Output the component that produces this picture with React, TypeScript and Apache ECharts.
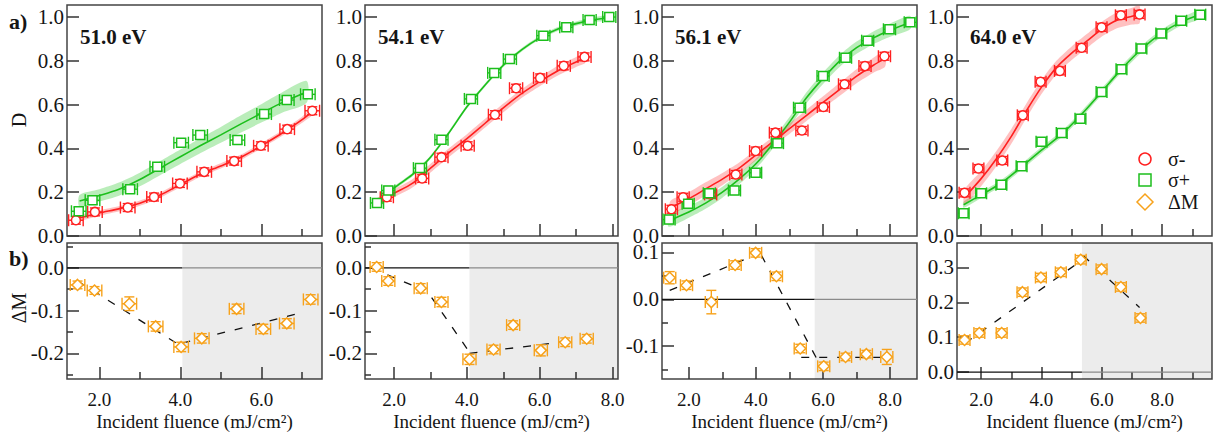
import React, { useEffect, useRef } from "react";
import * as echarts from "echarts";

// ---------- axes / ticks ----------
const XMIN = 1.2;
const XMAX = [7.5, 8.15, 8.8, 9.65];
const ENERGIES = ["51.0 eV", "54.1 eV", "56.1 eV", "64.0 eV"];
const X_TICKS = [2, 4, 6, 8];
const X_MINOR = [3, 5, 7, 9];
const D_MAX = 1.055;
const D_TICKS = [0, 0.2, 0.4, 0.6, 0.8, 1.0];
const DM_MIN = [-0.26, -0.26, -0.17, -0.02];
const DM_MAX = [0.058, 0.058, 0.12, 0.37];
const DM_TICKS = [[-0.2, -0.1, 0], [-0.2, -0.1, 0], [-0.1, 0, 0.1], [0, 0.1, 0.2, 0.3]];
const DM_MINOR = [[-0.25, -0.15, -0.05, 0.05], [-0.25, -0.15, -0.05, 0.05], [-0.15, -0.05, 0.05], []];
const SHADE_START = [4.05, 4.07, 5.75, 5.34];
const X_ERR = 0.18;
const D_YERR = 0.018;

// ---------- panel 1 : 51.0 eV ----------
const p1RedX = [1.42, 1.89, 2.7, 3.35, 3.99, 4.59, 5.33, 5.99, 6.64, 7.26];
const p1RedY = [0.072, 0.11, 0.13, 0.178, 0.24, 0.293, 0.342, 0.412, 0.488, 0.572];
const p1GreenX = [1.49, 1.83, 2.76, 3.43, 4.02, 4.49, 5.41, 6.07, 6.63, 7.15];
const p1GreenY = [0.113, 0.163, 0.214, 0.316, 0.426, 0.461, 0.438, 0.557, 0.621, 0.647];
const p1RedFitX = [1.45, 2.0, 2.5, 3.0, 3.5, 4.0, 4.5, 5.0, 5.5, 6.0, 6.5, 7.0, 7.3];
const p1RedFitY = [0.08, 0.105, 0.125, 0.15, 0.187, 0.235, 0.283, 0.32, 0.36, 0.412, 0.468, 0.53, 0.575];
const p1RedBand = [0.012, 0.012, 0.012, 0.012, 0.012, 0.012, 0.012, 0.012, 0.012, 0.012, 0.013, 0.014, 0.015];
const p1GreenFitX = [1.51, 2.0, 2.5, 3.0, 3.5, 4.0, 4.5, 5.0, 5.5, 6.0, 6.5, 7.12];
const p1GreenFitY = [0.16, 0.185, 0.215, 0.258, 0.31, 0.362, 0.413, 0.462, 0.512, 0.56, 0.608, 0.658];
const p1GreenBand = [0.027, 0.028, 0.03, 0.031, 0.032, 0.033, 0.034, 0.036, 0.039, 0.042, 0.046, 0.05];
const p1DmX = [1.46, 1.88, 2.74, 3.39, 4.02, 4.53, 5.39, 6.05, 6.63, 7.22];
const p1DmY = [-0.04, -0.053, -0.084, -0.137, -0.185, -0.165, -0.096, -0.143, -0.13, -0.074];
const p1DmErr = [0.009, 0.009, 0.016, 0.011, 0.011, 0.011, 0.011, 0.011, 0.011, 0.011];
const p1Dash = [
  [[1.46, -0.031], [4.0, -0.182]],
  [[4.05, -0.176], [7.0, -0.105]],
];

// ---------- panel 2 : 54.1 eV ----------
const p2RedX = [1.8, 2.77, 3.3, 4.02, 4.77, 5.35, 6.01, 6.66, 7.23];
const p2RedY = [0.177, 0.263, 0.36, 0.412, 0.554, 0.675, 0.722, 0.777, 0.818];
const p2GreenX = [1.53, 1.84, 2.71, 3.3, 4.11, 4.75, 5.18, 6.1, 6.73, 7.37, 7.91];
const p2GreenY = [0.151, 0.208, 0.31, 0.44, 0.626, 0.745, 0.808, 0.915, 0.953, 0.986, 1.0];
const p2RedFitX = [1.5, 2.0, 2.5, 3.0, 3.5, 4.0, 4.5, 5.0, 5.5, 6.0, 6.5, 7.0, 7.25];
const p2RedFitY = [0.15, 0.195, 0.24, 0.31, 0.38, 0.445, 0.515, 0.585, 0.65, 0.705, 0.755, 0.795, 0.815];
const p2RedBand = [0.018, 0.018, 0.019, 0.02, 0.02, 0.02, 0.02, 0.02, 0.02, 0.021, 0.022, 0.023, 0.024];
const p2GreenFitX = [1.5, 2.0, 2.5, 3.0, 3.5, 4.0, 4.5, 5.0, 5.5, 6.0, 6.5, 7.0, 7.5, 7.95];
const p2GreenFitY = [0.15, 0.22, 0.28, 0.36, 0.47, 0.59, 0.69, 0.78, 0.85, 0.905, 0.945, 0.97, 0.988, 0.998];
const p2GreenBand = [0.008, 0.008, 0.008, 0.008, 0.008, 0.008, 0.008, 0.008, 0.008, 0.008, 0.009, 0.01, 0.011, 0.012];
const p2DmX = [1.52, 1.84, 2.73, 3.3, 4.07, 4.73, 5.27, 6.03, 6.7, 7.29];
const p2DmY = [0.002, -0.031, -0.048, -0.08, -0.214, -0.191, -0.134, -0.193, -0.174, -0.166];
const p2DmErr = [0.01, 0.01, 0.011, 0.011, 0.012, 0.01, 0.01, 0.013, 0.01, 0.01];
const p2Dash = [
  [[1.36, 0.0], [2.75, -0.05]],
  [[2.75, -0.035], [4.05, -0.195]],
  [[4.07, -0.2], [6.95, -0.17]],
];

// ---------- panel 3 : 56.1 eV ----------
const p3RedX = [1.48, 1.83, 2.65, 3.4, 3.99, 4.58, 5.37, 6.01, 6.64, 7.25, 7.83];
const p3RedY = [0.122, 0.177, 0.19, 0.281, 0.388, 0.472, 0.482, 0.589, 0.693, 0.776, 0.821];
const p3GreenX = [1.41, 1.98, 2.61, 3.36, 3.99, 4.64, 5.3, 6.0, 6.67, 7.33, 7.98, 8.6];
const p3GreenY = [0.075, 0.147, 0.195, 0.208, 0.289, 0.424, 0.586, 0.731, 0.814, 0.892, 0.944, 0.976];
const p3RedFitX = [1.45, 2.0, 2.5, 3.0, 3.5, 4.0, 4.5, 5.0, 5.5, 6.0, 6.5, 7.0, 7.5, 7.85];
const p3RedFitY = [0.13, 0.17, 0.215, 0.26, 0.31, 0.37, 0.43, 0.49, 0.55, 0.61, 0.67, 0.73, 0.78, 0.81];
const p3RedBand = [0.03, 0.03, 0.03, 0.028, 0.026, 0.024, 0.022, 0.024, 0.026, 0.028, 0.03, 0.032, 0.034, 0.036];
const p3GreenFitX = [1.4, 2.0, 2.5, 3.0, 3.5, 4.0, 4.5, 5.0, 5.5, 6.0, 6.5, 7.0, 7.5, 8.0, 8.6];
const p3GreenFitY = [0.07, 0.11, 0.15, 0.2, 0.26, 0.33, 0.42, 0.52, 0.63, 0.72, 0.8, 0.86, 0.905, 0.94, 0.975];
const p3GreenBand = [0.028, 0.027, 0.026, 0.025, 0.024, 0.023, 0.022, 0.023, 0.025, 0.026, 0.027, 0.028, 0.029, 0.03, 0.03];
const p3DmX = [1.43, 1.93, 2.67, 3.38, 3.99, 4.61, 5.32, 6.02, 6.67, 7.29, 7.9];
const p3DmY = [0.046, 0.03, -0.006, 0.073, 0.099, 0.049, -0.105, -0.143, -0.123, -0.117, -0.123];
const p3DmErr = [0.013, 0.009, 0.025, 0.009, 0.009, 0.009, 0.009, 0.009, 0.008, 0.008, 0.016];
const p3Dash = [
  [[1.43, 0.019], [4.11, 0.098]],
  [[4.16, 0.094], [5.8, -0.125]],
  [[5.35, -0.124], [7.88, -0.124]],
];

// ---------- panel 4 : 64.0 eV ----------
const p4RedX = [1.45, 1.91, 2.7, 3.38, 3.97, 4.61, 5.33, 5.99, 6.63, 7.25];
const p4RedY = [0.197, 0.308, 0.345, 0.551, 0.704, 0.754, 0.86, 0.953, 1.008, 1.012];
const p4GreenX = [1.42, 2.0, 2.67, 3.34, 4.0, 4.67, 5.29, 5.99, 6.65, 7.31, 7.97, 8.63, 9.26];
const p4GreenY = [0.104, 0.195, 0.234, 0.319, 0.431, 0.47, 0.536, 0.658, 0.762, 0.856, 0.925, 0.983, 1.011];
const p4RedFitX = [1.45, 2.0, 2.5, 3.0, 3.5, 4.0, 4.5, 5.0, 5.5, 6.0, 6.5, 7.0, 7.25];
const p4RedFitY = [0.177, 0.262, 0.352, 0.455, 0.572, 0.68, 0.77, 0.835, 0.89, 0.945, 0.985, 1.004, 1.012];
const p4RedBand = [0.035, 0.035, 0.035, 0.034, 0.033, 0.032, 0.031, 0.031, 0.032, 0.034, 0.036, 0.038, 0.04];
const p4GreenFitX = [1.42, 2.0, 2.67, 3.34, 4.0, 4.67, 5.29, 5.99, 6.65, 7.31, 7.97, 8.63, 9.26];
const p4GreenFitY = [0.143, 0.188, 0.242, 0.316, 0.392, 0.465, 0.55, 0.658, 0.762, 0.853, 0.925, 0.978, 1.012];
const p4GreenBand = [0.014, 0.014, 0.014, 0.014, 0.014, 0.014, 0.014, 0.014, 0.015, 0.016, 0.017, 0.018, 0.019];
const p4DmX = [1.45, 1.94, 2.68, 3.37, 3.98, 4.64, 5.3, 5.99, 6.63, 7.28];
const p4DmY = [0.092, 0.112, 0.112, 0.229, 0.271, 0.286, 0.322, 0.295, 0.244, 0.155];
const p4DmErr = [0.012, 0.012, 0.012, 0.012, 0.012, 0.012, 0.012, 0.012, 0.012, 0.012];
const p4Dash = [
  [[1.47, 0.083], [5.49, 0.33]],
  [[5.38, 0.334], [7.25, 0.185]],
];

const PANELS = [
  { redX: p1RedX, redY: p1RedY, greenX: p1GreenX, greenY: p1GreenY, rfx: p1RedFitX, rfy: p1RedFitY, rb: p1RedBand, gfx: p1GreenFitX, gfy: p1GreenFitY, gb: p1GreenBand, dmX: p1DmX, dmY: p1DmY, dmE: p1DmErr, dash: p1Dash },
  { redX: p2RedX, redY: p2RedY, greenX: p2GreenX, greenY: p2GreenY, rfx: p2RedFitX, rfy: p2RedFitY, rb: p2RedBand, gfx: p2GreenFitX, gfy: p2GreenFitY, gb: p2GreenBand, dmX: p2DmX, dmY: p2DmY, dmE: p2DmErr, dash: p2Dash },
  { redX: p3RedX, redY: p3RedY, greenX: p3GreenX, greenY: p3GreenY, rfx: p3RedFitX, rfy: p3RedFitY, rb: p3RedBand, gfx: p3GreenFitX, gfy: p3GreenFitY, gb: p3GreenBand, dmX: p3DmX, dmY: p3DmY, dmE: p3DmErr, dash: p3Dash },
  { redX: p4RedX, redY: p4RedY, greenX: p4GreenX, greenY: p4GreenY, rfx: p4RedFitX, rfy: p4RedFitY, rb: p4RedBand, gfx: p4GreenFitX, gfy: p4GreenFitY, gb: p4GreenBand, dmX: p4DmX, dmY: p4DmY, dmE: p4DmErr, dash: p4Dash },
];

// ---------- styling ----------
const FONT = "Liberation Serif, serif";
const RED = "#ff2020";
const GREEN = "#1cbf1c";
const ORANGE = "#f7a21b";
const RED_BAND = "rgba(255,50,50,0.30)";
const GREEN_BAND = "rgba(40,200,40,0.32)";
const FRAME = "#444";
const TICK = "#333";
const TEXT = "#151515";
const LEFTS = [67, 365, 662, 957];
const WIDTHS = [255, 253, 255, 255];
const ROW_TOP = [5, 243];
const ROW_H = [231, 136];

function bandSeries(ax: number, fx: number[], fy: number[], hw: number[], color: string) {
  return {
    type: "custom",
    xAxisIndex: ax,
    yAxisIndex: ax,
    z: 1,
    silent: true,
    clip: false,
    data: fx.map((x, i) => [x, fy[i], hw[i]]),
    renderItem: (params: any, api: any) => {
      if (params.dataIndex !== 0) return null;
      const up = fx.map((x, i) => api.coord([x, fy[i] + hw[i]]));
      const lo = fx.map((x, i) => api.coord([x, fy[i] - hw[i]])).reverse();
      return { type: "polygon", shape: { points: up.concat(lo), smooth: 0.25 }, style: { fill: color } };
    },
  };
}

function errSeries(ax: number, xs: number[], ys: number[], ye: number[], color: string) {
  return {
    type: "custom",
    xAxisIndex: ax,
    yAxisIndex: ax,
    z: 3,
    silent: true,
    clip: false,
    data: xs.map((x, i) => [x, ys[i], X_ERR, ye[i]]),
    renderItem: (params: any, api: any) => {
      const x = api.value(0), y = api.value(1), xe = api.value(2), yv = api.value(3);
      const l = api.coord([x - xe, y]);
      const r = api.coord([x + xe, y]);
      const t = api.coord([x, y + yv]);
      const b = api.coord([x, y - yv]);
      const st = { stroke: color, lineWidth: 1.4, fill: null };
      const ln = (x1: number, y1: number, x2: number, y2: number) => ({ type: "line", shape: { x1, y1, x2, y2 }, style: st });
      const ch = 6, cw = 5;
      return {
        type: "group",
        children: [
          ln(l[0], l[1], r[0], r[1]),
          ln(l[0], l[1] - ch, l[0], l[1] + ch),
          ln(r[0], r[1] - ch, r[0], r[1] + ch),
          ln(t[0], t[1], b[0], b[1]),
          ln(t[0] - cw, t[1], t[0] + cw, t[1]),
          ln(b[0] - cw, b[1], b[0] + cw, b[1]),
        ],
      };
    },
  };
}

function markerSeries(ax: number, xs: number[], ys: number[], symbol: string, size: number, color: string) {
  return {
    type: "scatter",
    xAxisIndex: ax,
    yAxisIndex: ax,
    z: 4,
    silent: true,
    symbol,
    symbolSize: size,
    data: xs.map((x, i) => [x, ys[i]]),
    itemStyle: { color: "#fff", borderColor: color, borderWidth: 1.5, opacity: 1 },
  };
}

function lineSeries(ax: number, pts: number[][], color: string, width: number, type: any, smooth: number, z: number) {
  return {
    type: "line",
    xAxisIndex: ax,
    yAxisIndex: ax,
    z,
    silent: true,
    showSymbol: false,
    symbol: "none",
    smooth,
    data: pts,
    lineStyle: { color, width, type },
  };
}

function buildOption() {
  const grid: any[] = [];
  const xAxis: any[] = [];
  const yAxis: any[] = [];
  const series: any[] = [];
  const labelStyle = { fontFamily: FONT, color: TEXT };

  for (let row = 0; row < 2; row++) {
    for (let p = 0; p < 4; p++) {
      const g = row * 4 + p;
      grid.push({
        left: LEFTS[p], width: WIDTHS[p], top: ROW_TOP[row], height: ROW_H[row],
        show: true, borderColor: FRAME, borderWidth: 1.5, backgroundColor: "transparent",
        containLabel: false, outerBoundsMode: "none",
      });
      const xt = X_TICKS.filter((v) => v < XMAX[p]);
      const xm = X_MINOR.filter((v) => v < XMAX[p]);
      xAxis.push({
        type: "value", gridIndex: g, min: XMIN, max: XMAX[p], position: "bottom",
        axisLine: { show: false, onZero: false }, splitLine: { show: false },
        axisTick: { show: true, inside: true, length: 12, customValues: xt, lineStyle: { color: TICK, width: 1.5 } },
        axisLabel: { show: row === 1, customValues: xt, formatter: (v: number) => v.toFixed(1), margin: 11, fontSize: 19, ...labelStyle },
        name: row === 1 ? "Incident fluence (mJ/cm²)" : "",
        nameLocation: "middle", nameGap: 33,
        nameTextStyle: { fontSize: 19, ...labelStyle },
      });
      xAxis.push({
        type: "value", gridIndex: g, min: XMIN, max: XMAX[p], position: "bottom",
        axisLine: { show: false, onZero: false }, splitLine: { show: false },
        axisTick: { show: true, inside: true, length: 7, customValues: xm, lineStyle: { color: TICK, width: 1.5 } },
        axisLabel: { show: false },
      });
      const ymin = row === 0 ? 0 : DM_MIN[p];
      const ymax = row === 0 ? D_MAX : DM_MAX[p];
      const yt = row === 0 ? D_TICKS : DM_TICKS[p];
      const ym = row === 0 ? [] : DM_MINOR[p];
      yAxis.push({
        type: "value", gridIndex: g, min: ymin, max: ymax, position: "left",
        axisLine: { show: false, onZero: false }, splitLine: { show: false },
        axisTick: { show: true, inside: true, length: 12, customValues: yt, lineStyle: { color: TICK, width: 1.5 } },
        axisLabel: { show: true, customValues: yt, formatter: (v: number) => v.toFixed(1), margin: 3, fontSize: 21, lineHeight: 15, ...labelStyle },
      });
      yAxis.push({
        type: "value", gridIndex: g, min: ymin, max: ymax, position: "left",
        axisLine: { show: false, onZero: false }, splitLine: { show: false },
        axisTick: { show: ym.length > 0, inside: true, length: 6, customValues: ym.length ? ym : [ymin], lineStyle: { color: TICK, width: 1.5 } },
        axisLabel: { show: false },
      });
    }
  }

  PANELS.forEach((d, p) => {
    const top = 2 * p;
    series.push(bandSeries(top, d.gfx, d.gfy, d.gb, GREEN_BAND));
    series.push(bandSeries(top, d.rfx, d.rfy, d.rb, RED_BAND));
    series.push(lineSeries(top, d.gfx.map((x, i) => [x, d.gfy[i]]), GREEN, 1.6, "solid", 0.3, 2));
    series.push(lineSeries(top, d.rfx.map((x, i) => [x, d.rfy[i]]), RED, 1.6, "solid", 0.3, 2));
    series.push(errSeries(top, d.redX, d.redY, d.redX.map(() => D_YERR), RED));
    series.push(markerSeries(top, d.redX, d.redY, "circle", 9, RED));
    series.push(errSeries(top, d.greenX, d.greenY, d.greenX.map(() => D_YERR), GREEN));
    series.push(markerSeries(top, d.greenX, d.greenY, "rect", 9, GREEN));

    const bot = 2 * (4 + p);
    series.push({
      type: "line", xAxisIndex: bot, yAxisIndex: bot, z: 1, silent: true, showSymbol: false, symbol: "none",
      data: [[XMIN, 0], [SHADE_START[p], 0]],
      lineStyle: { color: "#111", width: 1.3 },
      markArea: {
        silent: true,
        itemStyle: { color: "rgba(0,0,0,0.075)" },
        data: [[{ xAxis: SHADE_START[p] }, { xAxis: XMAX[p] }]],
      },
    });
    series.push(lineSeries(bot, [[SHADE_START[p], 0], [XMAX[p], 0]], "#8a8a8a", 1.3, "solid", 0, 1));
    d.dash.forEach((seg) => series.push(lineSeries(bot, seg, "#111", 1.3, [8, 10], 0, 2)));
    series.push(errSeries(bot, d.dmX, d.dmY, d.dmE, ORANGE));
    series.push(markerSeries(bot, d.dmX, d.dmY, "diamond", 11, ORANGE));
  });

  const graphic: any[] = [];
  ENERGIES.forEach((t, p) => {
    graphic.push({
      type: "text", x: LEFTS[p] + 13, y: 37,
      style: { text: t, fontSize: 21, fontWeight: "bold", fontFamily: FONT, fill: TEXT, align: "left", verticalAlign: "middle" },
    });
  });
  graphic.push({ type: "text", x: 9, y: 21, style: { text: "a)", fontSize: 22, fontWeight: "bold", fontFamily: FONT, fill: TEXT, align: "left", verticalAlign: "middle" } });
  graphic.push({ type: "text", x: 9, y: 258, style: { text: "b)", fontSize: 22, fontWeight: "bold", fontFamily: FONT, fill: TEXT, align: "left", verticalAlign: "middle" } });
  graphic.push({ type: "text", x: 19, y: 120, rotation: Math.PI / 2, style: { text: "D", fontSize: 20, fontFamily: FONT, fill: TEXT, align: "center", verticalAlign: "middle" } });
  graphic.push({ type: "text", x: 19, y: 308, rotation: Math.PI / 2, style: { text: "ΔM", fontSize: 20, fontFamily: FONT, fill: TEXT, align: "center", verticalAlign: "middle" } });
  graphic.push({ type: "circle", shape: { cx: 1145, cy: 159, r: 6 }, style: { stroke: RED, lineWidth: 1.5, fill: "#fff" } });
  graphic.push({ type: "rect", shape: { x: 1139, y: 174, width: 12, height: 12 }, style: { stroke: GREEN, lineWidth: 1.5, fill: "#fff" } });
  graphic.push({ type: "polygon", shape: { points: [[1145, 194], [1153, 202], [1145, 210], [1137, 202]] }, style: { stroke: ORANGE, lineWidth: 1.5, fill: "#fff" } });
  [["σ-", 159], ["σ+", 180], ["ΔM", 202]].forEach(([t, y]) => {
    graphic.push({ type: "text", x: 1168, y: y as number, style: { text: t as string, fontSize: 20, fontFamily: FONT, fill: TEXT, align: "left", verticalAlign: "middle" } });
  });

  return { animation: false, backgroundColor: "#fff", grid, xAxis, yAxis, series, graphic };
}

export default function App() {
  const ref = useRef<HTMLDivElement>(null);
  useEffect(() => {
    if (!ref.current) return;
    const chart = echarts.init(ref.current, undefined, { renderer: "svg" });
    chart.setOption(buildOption() as any);
    return () => chart.dispose();
  }, []);
  return <div ref={ref} style={{ position: "absolute", left: 0, top: 0, width: 1215, height: 438 }} />;
}
